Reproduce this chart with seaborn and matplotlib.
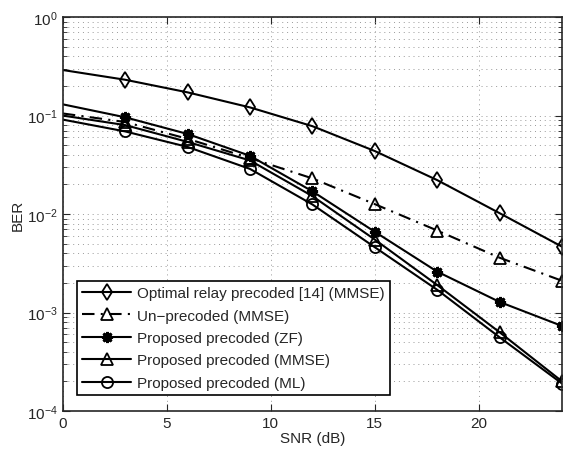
import matplotlib
matplotlib.use("Agg")
import matplotlib.pyplot as plt
import seaborn as sns
import pandas as pd
import numpy as np
from matplotlib.ticker import LogLocator, FixedLocator, NullFormatter

snr = [0, 3, 6, 9, 12, 15, 18, 21, 24]
ber_optimal = [0.29, 0.231, 0.172, 0.121, 0.078, 0.0436, 0.0221, 0.0102, 0.00466]
ber_unprec = [0.105, 0.086, 0.058, 0.037, 0.023, 0.0126, 0.0068, 0.0036, 0.0021]
ber_zf = [0.13, 0.096, 0.065, 0.039, 0.017, 0.0066, 0.0026, 0.00128, 0.00073]
ber_mmse = [0.10, 0.08, 0.054, 0.035, 0.0152, 0.0055, 0.0019, 0.00063, 0.0002]
ber_ml = [0.091, 0.069, 0.048, 0.0287, 0.0125, 0.0046, 0.0017, 0.00056, 0.00019]

labels = ["Optimal relay precoded [14] (MMSE)", "Un\u2212precoded (MMSE)",
          "Proposed precoded (ZF)", "Proposed precoded (MMSE)", "Proposed precoded (ML)"]
series = [ber_optimal, ber_unprec, ber_zf, ber_mmse, ber_ml]

sns.set_style("ticks")
plt.rcParams['font.family'] = ['Liberation Sans', 'DejaVu Sans']
plt.rcParams['mathtext.fontset'] = 'custom'
plt.rcParams['mathtext.rm'] = 'Liberation Sans'

fig = plt.figure(figsize=(5.66, 4.52), dpi=100)
ax = fig.add_axes([0.111, 0.0885, 0.882, 0.8715])

styles = [
    dict(marker='d', ls='-', ms=8, mfc='none', mew=1.3),
    dict(marker='^', ls=(0, (6, 3, 1, 3)), ms=8, mfc='none', mew=1.3),
    dict(marker=(8, 2, 0), ls='-', ms=8, mfc='black', mew=2.0),
    dict(marker='^', ls='-', ms=8, mfc='none', mew=1.3),
    dict(marker='o', ls='-', ms=8, mfc='none', mew=1.3),
]

for lab, vals, st in zip(labels, series, styles):
    df = pd.DataFrame({"SNR": snr, "BER": vals})
    sns.lineplot(data=df, x="SNR", y="BER", ax=ax, color='black', lw=1.5,
                 linestyle=st['ls'], marker=st['marker'], markersize=st['ms'],
                 markerfacecolor=st['mfc'], markeredgecolor='black', markeredgewidth=st['mew'],
                 markevery=list(range(1, len(snr))), label=lab)

ax.set_yscale('log')
ax.set_xlim(0, 24)
ax.set_ylim(1e-4, 1)
ax.xaxis.set_major_locator(FixedLocator([0, 5, 10, 15, 20]))
ax.yaxis.set_major_locator(LogLocator(base=10, numticks=10))
ax.yaxis.set_minor_locator(LogLocator(base=10, subs=np.arange(2, 10), numticks=20))
ax.yaxis.set_minor_formatter(NullFormatter())
ax.grid(True, which='major', axis='both', ls=(0, (1, 4)), color='#999999', lw=0.7)
ax.grid(True, which='minor', axis='y', ls=(0, (1, 4)), color='#999999', lw=0.7)
ax.tick_params(direction='in', which='both', top=True, right=True, labelsize=11)
ax.tick_params(which='major', length=5)
ax.tick_params(which='minor', length=3)
for s in ax.spines.values():
    s.set_linewidth(1.2)
ax.set_xlabel("SNR (dB)", fontsize=11, labelpad=1)
ax.set_ylabel("BER", fontsize=11, labelpad=2)

leg = ax.legend(loc='lower left', bbox_to_anchor=(0.028, 0.04), fontsize=11,
                handlelength=3.2, frameon=True, fancybox=False, edgecolor='black',
                borderpad=0.35, labelspacing=0.55, handletextpad=0.4, borderaxespad=0)
leg.get_frame().set_linewidth(1.2)
leg.get_frame().set_alpha(1)

fig.savefig("out.png", dpi=100)
